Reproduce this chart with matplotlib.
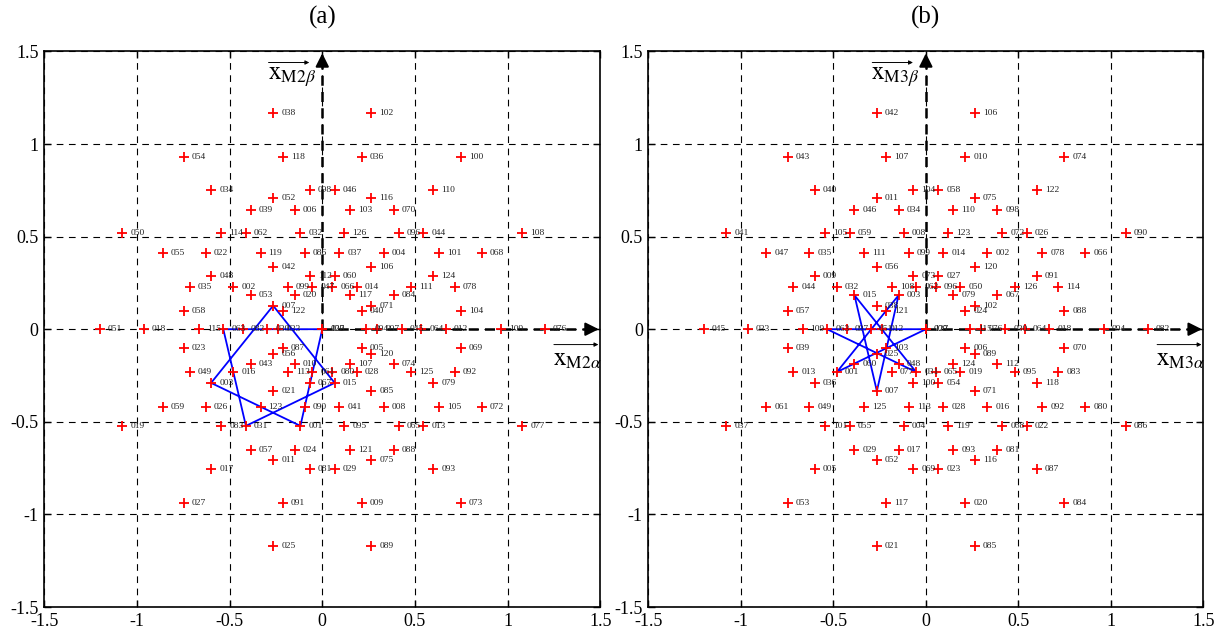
import matplotlib
matplotlib.use("Agg")
import matplotlib.pyplot as plt

plt.rcParams['font.family'] = ['Liberation Serif', 'DejaVu Serif']
plt.rcParams['mathtext.fontset'] = 'stix'
plt.rcParams['axes.unicode_minus'] = False

# ---- point positions (shared grid of both subspaces) ----
pos_x = [
    -0.265, 0.265,
    -0.747, -0.214, 0.214, 0.747,
    -0.600, -0.067, 0.067, 0.600,
    -0.265, 0.265,
    -0.386, -0.148, 0.148, 0.386,
    -1.080, -0.546, -0.412, -0.118, 0.118, 0.412, 0.546, 1.080,
    -0.862, -0.630, -0.333, -0.093, 0.093, 0.333, 0.630, 0.862,
    -0.265, 0.265,
    -0.600, -0.067, 0.067, 0.600,
    -0.716, -0.481, -0.185, -0.053, 0.053, 0.185, 0.481, 0.716,
    -0.386, -0.148, 0.148, 0.386,
    -0.265, 0.265,
    -0.747, -0.214, 0.214, 0.747,
    -1.201, -0.963, -0.667, -0.534, -0.429, -0.297, -0.238, 0.0,
    0.0, 0.238, 0.297, 0.429, 0.534, 0.667, 0.963, 1.201,
    -0.747, -0.214, 0.214, 0.747,
    -0.265, 0.265,
    -0.386, -0.148, 0.148, 0.386,
    -0.716, -0.481, -0.185, -0.053, 0.053, 0.185, 0.481, 0.716,
    -0.600, -0.067, 0.067, 0.600,
    -0.265, 0.265,
    -0.862, -0.630, -0.333, -0.093, 0.093, 0.333, 0.630, 0.862,
    -1.080, -0.546, -0.412, -0.118, 0.118, 0.412, 0.546, 1.080,
    -0.386, -0.148, 0.148, 0.386,
    -0.265, 0.265,
    -0.600, -0.067, 0.067, 0.600,
    -0.747, -0.214, 0.214, 0.747,
    -0.265, 0.265,
]
pos_y = [
    1.166, 1.166,
    0.930, 0.930, 0.930, 0.930,
    0.749, 0.749, 0.749, 0.749,
    0.707, 0.707,
    0.644, 0.644, 0.644, 0.644,
    0.518, 0.518, 0.518, 0.518, 0.518, 0.518, 0.518, 0.518,
    0.410, 0.410, 0.410, 0.410, 0.410, 0.410, 0.410, 0.410,
    0.334, 0.334,
    0.288, 0.288, 0.288, 0.288,
    0.230, 0.230, 0.230, 0.230, 0.230, 0.230, 0.230, 0.230,
    0.183, 0.183, 0.183, 0.183,
    0.127, 0.127,
    0.101, 0.101, 0.101, 0.101,
    0.0, 0.0, 0.0, 0.0, 0.0, 0.0, 0.0, 0.0,
    0.0, 0.0, 0.0, 0.0, 0.0, 0.0, 0.0, 0.0,
    -0.104, -0.104, -0.104, -0.104,
    -0.133, -0.133,
    -0.187, -0.187, -0.187, -0.187,
    -0.231, -0.231, -0.231, -0.231, -0.231, -0.231, -0.231, -0.231,
    -0.290, -0.290, -0.290, -0.290,
    -0.334, -0.334,
    -0.418, -0.418, -0.418, -0.418, -0.418, -0.418, -0.418, -0.418,
    -0.522, -0.522, -0.522, -0.522, -0.522, -0.522, -0.522, -0.522,
    -0.652, -0.652, -0.652, -0.652,
    -0.707, -0.707,
    -0.756, -0.756, -0.756, -0.756,
    -0.940, -0.940, -0.940, -0.940,
    -1.168, -1.168,
]

# ---- switching-state labels at those positions ----
labels_a = ["038", "102", "054", "118", "036", "100", "034", "098", "046", "110",
            "052", "116", "039", "006", "103", "070", "050", "114", "062", "032",
            "126", "096", "044", "108", "055", "022", "119", "086", "037", "004",
            "101", "068", "042", "106", "048", "112", "060", "124", "035", "002",
            "099", "047", "066", "014", "111", "078", "053", "020", "117", "084",
            "007", "071", "058", "122", "040", "104", "051", "018", "115", "063",
            "082", "030", "033", "000", "127", "094", "097", "045", "064", "012",
            "109", "076", "023", "087", "005", "069", "056", "120", "043", "010",
            "107", "074", "049", "016", "113", "061", "080", "028", "125", "092",
            "003", "067", "015", "079", "021", "085", "059", "026", "123", "090",
            "041", "008", "105", "072", "019", "083", "031", "001", "095", "065",
            "013", "077", "057", "024", "121", "088", "011", "075", "017", "081",
            "029", "093", "027", "091", "009", "073", "025", "089"]
labels_b = ["042", "106", "043", "107", "010", "074", "040", "104", "058", "122",
            "011", "075", "046", "034", "110", "098", "041", "105", "059", "008",
            "123", "072", "026", "090", "047", "035", "111", "099", "014", "002",
            "078", "066", "056", "120", "009", "073", "027", "091", "044", "032",
            "108", "062", "096", "050", "126", "114", "015", "003", "079", "067",
            "038", "102", "057", "121", "024", "088", "045", "033", "109", "063",
            "097", "051", "012", "000", "127", "115", "076", "030", "064", "018",
            "094", "082", "039", "103", "006", "070", "025", "089", "060", "048",
            "124", "112", "013", "001", "077", "031", "065", "019", "095", "083",
            "036", "100", "054", "118", "007", "071", "061", "049", "125", "113",
            "028", "016", "092", "080", "037", "101", "055", "004", "119", "068",
            "022", "086", "029", "017", "093", "081", "052", "116", "005", "069",
            "023", "087", "053", "117", "020", "084", "021", "085"]

# blue path through the states
star_states = ["000", "001", "003", "007", "015", "031", "063", "000"]

ticks = [-1.5, -1.0, -0.5, 0.0, 0.5, 1.0, 1.5]
tick_labels = ["-1.5", "-1", "-0.5", "0", "0.5", "1", "1.5"]

fig = plt.figure(figsize=(12.17, 6.30), dpi=100)
ax_a = fig.add_axes([0.0364, 0.0365, 0.4568, 0.8819])
ax_b = fig.add_axes([0.5328, 0.0365, 0.4560, 0.8819])


def draw(ax, labels, sub_a, sub_b, title):
    ax.set_xlim(-1.5, 1.5)
    ax.set_ylim(-1.5, 1.5)
    ax.set_xticks(ticks)
    ax.set_yticks(ticks)
    ax.set_xticklabels(tick_labels, fontsize=13)
    ax.set_yticklabels(tick_labels, fontsize=13)
    ax.tick_params(direction='in', length=5, width=1, top=True, right=True, pad=4)
    for s in ax.spines.values():
        s.set_linewidth(1.2)
    ax.grid(True, color='k', linewidth=0.8, linestyle=(0, (6, 5)))
    ax.set_axisbelow(True)

    # thick dashed axes arrows
    ax.plot([0, 1.44], [0, 0], color='k', lw=1.8, dashes=(4, 2.5), zorder=3)
    ax.plot([0, 0], [0, 1.44], color='k', lw=1.8, dashes=(4, 2.5), zorder=3)
    ax.annotate('', xy=(1.492, 0), xytext=(1.43, 0),
                arrowprops=dict(arrowstyle='-|>', color='k', lw=1.5,
                                mutation_scale=20, shrinkA=0, shrinkB=0), zorder=4)
    ax.annotate('', xy=(0, 1.49), xytext=(0, 1.43),
                arrowprops=dict(arrowstyle='-|>', color='k', lw=1.5,
                                mutation_scale=20, shrinkA=0, shrinkB=0), zorder=4)

    # red markers
    ax.plot(pos_x, pos_y, linestyle='none', marker='+', color='red',
            markersize=7, markeredgewidth=1.3, zorder=5)
    for x, y, l in zip(pos_x, pos_y, labels):
        ax.annotate(l, (x, y), xytext=(5.8, 0), textcoords='offset points',
                    fontsize=6.8, va='center', ha='left', color='#222222', zorder=6)

    # blue star
    lookup = {l: (x, y) for x, y, l in zip(pos_x, pos_y, labels)}
    sx = [lookup[s][0] for s in star_states]
    sy = [lookup[s][1] for s in star_states]
    ax.plot(sx, sy, color='blue', lw=1.3, zorder=4)

    # axis names with arrow above
    ax.text(-0.295, 1.36, r'$\mathrm{x}_{\mathrm{%s}\beta}$' % sub_b, fontsize=18,
            ha='left', va='center', zorder=7)
    ax.annotate('', xy=(-0.07, 1.44), xytext=(-0.29, 1.44),
                arrowprops=dict(arrowstyle='-|>', color='k', lw=0.7,
                                mutation_scale=6, shrinkA=0, shrinkB=0))
    ax.text(1.245, -0.165, r'$\mathrm{x}_{\mathrm{%s}\alpha}$' % sub_a, fontsize=18,
            ha='left', va='center', zorder=7)
    ax.annotate('', xy=(1.49, -0.083), xytext=(1.25, -0.083),
                arrowprops=dict(arrowstyle='-|>', color='k', lw=0.7,
                                mutation_scale=6, shrinkA=0, shrinkB=0))

    ax.text(0.5, 1.062, title, transform=ax.transAxes, ha='center', va='center',
            fontsize=18)


draw(ax_a, labels_a, 'M2', 'M2', '(a)')
draw(ax_b, labels_b, 'M3', 'M3', '(b)')

fig.savefig('out.png', dpi=100)
